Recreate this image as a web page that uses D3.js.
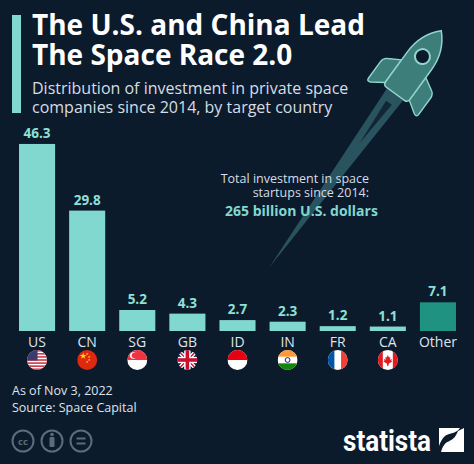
<!DOCTYPE html>
<html>
<head>
<meta charset="utf-8">
<script src="https://cdn.jsdelivr.net/npm/d3@7"></script>
<style>
  body { margin: 0; background: #0c1b2c; }
  svg { display: block; font-family: "Open Sans", sans-serif; }
</style>
</head>
<body>
<div id="chart"></div>
<script>
// data (billion U.S. dollars)
var countries = ["US", "CN", "SG", "GB", "ID", "IN", "FR", "CA", "Other"];
var investment = [46.3, 29.8, 5.2, 4.3, 2.7, 2.3, 1.2, 1.1, 7.1];
var titleLines = ["The U.S. and China Lead", "The Space Race 2.0"];
var subtitleLines = ["Distribution of investment in private space", "companies since 2014, by target country"];
var noteLines = ["Total investment in space", "startups since 2014:"];
var noteTotal = "265 billion U.S. dollars";
var footLines = ["As of Nov 3, 2022", "Source: Space Capital"];

var svgWidth = 474;
var svgHeight = 464;
var bg = "#0c1b2c";
var teal = "#80d8cf";

var svg = d3.select("#chart").append("svg")
    .attr("width", svgWidth)
    .attr("height", svgHeight);

svg.append("rect").attr("width", svgWidth).attr("height", svgHeight).attr("fill", bg);

var defs = svg.append("defs");

// rocket + trail
var rocket = svg.append("g").attr("transform", "translate(396,93) rotate(36)");
rocket.append("path")
    .attr("d", "M-10,2 L10,2 L0,216 Z")
    .attr("fill", "#2f5d68")
    .attr("opacity", 0.85);
rocket.append("path")
    .attr("d", "M-3.5,12 L3.5,12 L0,62 Z")
    .attr("fill", bg)
    .attr("opacity", 0.8);
// fins
rocket.append("path")
    .attr("d", "M-15,-30 L-27,-23 Q-31,-21 -31,-16 L-31,4 Q-31,8 -27,6 L-15,-2 Z")
    .attr("fill", "#3d7d7a").attr("stroke", "#8fd5cc").attr("stroke-width", 1.4);
rocket.append("path")
    .attr("d", "M15,-30 L27,-23 Q31,-21 31,-16 L31,4 Q31,8 27,6 L15,-2 Z")
    .attr("fill", "#3d7d7a").attr("stroke", "#8fd5cc").attr("stroke-width", 1.4);
// body
rocket.append("path")
    .attr("d", "M-15,-3 L-15,-40 C-15,-58 -7,-70 0,-77 C7,-70 15,-58 15,-40 L15,-3 Q15,1 11,1 L-11,1 Q-15,1 -15,-3 Z")
    .attr("fill", "#3d7d7a").attr("stroke", "#8fd5cc").attr("stroke-width", 1.5);
rocket.append("circle")
    .attr("cx", 0).attr("cy", -45).attr("r", 7.5)
    .attr("fill", bg).attr("stroke", "#8fd5cc").attr("stroke-width", 2);

// title block
svg.append("rect").attr("x", 12).attr("y", 15).attr("width", 9).attr("height", 98).attr("fill", teal);

svg.selectAll(".title").data(titleLines).enter().append("text")
    .attr("class", "title")
    .attr("x", 32)
    .attr("y", (d, i) => 35 + i * 30)
    .attr("fill", "#ffffff")
    .attr("font-size", 28)
    .attr("font-weight", 700)
    .text(d => d);

svg.selectAll(".subtitle").data(subtitleLines).enter().append("text")
    .attr("class", "subtitle")
    .attr("x", 32)
    .attr("y", (d, i) => 94 + i * 19)
    .attr("fill", "#d6dde4")
    .attr("font-size", 16)
    .text(d => d);

// annotation
svg.selectAll(".note").data(noteLines).enter().append("text")
    .attr("class", "note")
    .attr("x", 369)
    .attr("y", (d, i) => 183 + i * 14)
    .attr("text-anchor", "end")
    .attr("fill", "#d6dde4")
    .attr("font-size", 12.5)
    .text(d => d);
svg.append("text")
    .attr("x", 225)
    .attr("y", 216)
    .attr("fill", teal)
    .attr("font-size", 14)
    .attr("font-weight", 700)
    .text(noteTotal);

// scales
var xBand = d3.scaleBand()
    .domain(countries)
    .range([12, 463])
    .paddingInner(0.28)
    .paddingOuter(0.14);

var yLinear = d3.scaleLinear()
    .domain([0, 50])
    .range([331, 129]);

var chartGroup = svg.append("g");

chartGroup.selectAll(".bar")
    .data(investment)
    .enter()
    .append("rect")
    .attr("class", "bar")
    .attr("x", (d, i) => xBand(countries[i]))
    .attr("y", d => yLinear(d))
    .attr("width", xBand.bandwidth())
    .attr("height", d => yLinear(0) - yLinear(d))
    .attr("fill", (d, i) => countries[i] === "Other" ? "#1f9282" : teal);

chartGroup.selectAll(".value")
    .data(investment)
    .enter()
    .append("text")
    .attr("class", "value")
    .attr("x", (d, i) => xBand(countries[i]) + xBand.bandwidth() / 2)
    .attr("y", d => yLinear(d) - 6)
    .attr("text-anchor", "middle")
    .attr("fill", "#8fe0d6")
    .attr("font-size", 13.5)
    .attr("font-weight", 700)
    .text(d => d3.format(".1f")(d));

// x axis labels (no axis line in the reference)
var xAxis = chartGroup.append("g")
    .attr("transform", "translate(0,347)")
    .call(d3.axisBottom(xBand).tickSize(0).tickPadding(0));
xAxis.select(".domain").remove();
xAxis.selectAll("text")
    .attr("dy", 0)
    .attr("fill", "#dfe4ea")
    .attr("font-size", 14)
    .attr("font-family", "Open Sans, sans-serif");

// flags
var flagR = 10;
var flagY = 360;

function drawFlag(g, code) {
    var r = flagR;
    function rect(x, y, w, h, c) {
        g.append("rect").attr("x", x).attr("y", y).attr("width", w).attr("height", h).attr("fill", c);
    }
    if (code === "US") {
        rect(-r, -r, 2 * r, 2 * r, "#ffffff");
        for (var k = 0; k < 7; k++) rect(-r, -r + k * (2 * r / 6.5), 2 * r, r / 6.5, "#c8313e");
        rect(-r, -r, r * 1.05, r * 1.05, "#3c3b6e");
    } else if (code === "CN") {
        rect(-r, -r, 2 * r, 2 * r, "#de2910");
        g.append("path").attr("d", d3.symbol(d3.symbolStar, 14)()).attr("transform", "translate(-4,-4)").attr("fill", "#ffde00");
        [[0, -6], [2, -3], [2, 0], [0, 2]].forEach(p => {
            g.append("path").attr("d", d3.symbol(d3.symbolStar, 2)()).attr("transform", `translate(${p[0]},${p[1]})`).attr("fill", "#ffde00");
        });
    } else if (code === "SG") {
        rect(-r, -r, 2 * r, 2 * r, "#ffffff");
        rect(-r, -r, 2 * r, r, "#ef3340");
        g.append("circle").attr("cx", -4).attr("cy", -4.5).attr("r", 3.2).attr("fill", "#ffffff");
        g.append("circle").attr("cx", -2.8).attr("cy", -4.5).attr("r", 2.8).attr("fill", "#ef3340");
    } else if (code === "GB") {
        rect(-r, -r, 2 * r, 2 * r, "#012169");
        g.append("path").attr("d", `M${-r},${-r}L${r},${r}M${r},${-r}L${-r},${r}`).attr("stroke", "#ffffff").attr("stroke-width", 4);
        g.append("path").attr("d", `M${-r},${-r}L${r},${r}M${r},${-r}L${-r},${r}`).attr("stroke", "#c8102e").attr("stroke-width", 1.4);
        rect(-r, -3.2, 2 * r, 6.4, "#ffffff");
        rect(-3.2, -r, 6.4, 2 * r, "#ffffff");
        rect(-r, -1.8, 2 * r, 3.6, "#c8102e");
        rect(-1.8, -r, 3.6, 2 * r, "#c8102e");
    } else if (code === "ID") {
        rect(-r, -r, 2 * r, 2 * r, "#ffffff");
        rect(-r, -r, 2 * r, r, "#e70011");
    } else if (code === "IN") {
        rect(-r, -r, 2 * r, 2 * r, "#ffffff");
        rect(-r, -r, 2 * r, 2 * r / 3, "#ff9933");
        rect(-r, r / 3, 2 * r, 2 * r / 3, "#138808");
        g.append("circle").attr("r", 2.4).attr("fill", "none").attr("stroke", "#000080").attr("stroke-width", 0.9);
    } else if (code === "FR") {
        rect(-r, -r, 2 * r, 2 * r, "#ffffff");
        rect(-r, -r, 2 * r / 3, 2 * r, "#0055a4");
        rect(r / 3, -r, 2 * r / 3, 2 * r, "#ef4135");
    } else if (code === "CA") {
        rect(-r, -r, 2 * r, 2 * r, "#ffffff");
        rect(-r, -r, r * 0.5, 2 * r, "#e21b22");
        rect(r * 0.5, -r, r * 0.5, 2 * r, "#e21b22");
        g.append("path")
            .attr("d", "M0,-5 L1.2,-2.6 L2.6,-3 L2,0 L4,-1.2 L3.4,1 L4.6,1.6 L1,3.6 L0.5,6 L-0.5,6 L-1,3.6 L-4.6,1.6 L-3.4,1 L-4,-1.2 L-2,0 L-2.6,-3 L-1.2,-2.6 Z")
            .attr("fill", "#e21b22");
    }
}

countries.forEach(function (c, i) {
    if (c === "Other") return;
    var cx = xBand(c) + xBand.bandwidth() / 2;
    defs.append("clipPath").attr("id", "clip-" + c)
        .append("circle").attr("r", flagR);
    var g = svg.append("g")
        .attr("transform", `translate(${cx},${flagY})`)
        .attr("clip-path", `url(#clip-${c})`);
    drawFlag(g, c);
});

// footer
svg.selectAll(".foot").data(footLines).enter().append("text")
    .attr("class", "foot")
    .attr("x", 12)
    .attr("y", (d, i) => 395 + i * 17)
    .attr("fill", "#dfe4ea")
    .attr("font-size", 12.5)
    .text(d => d);

// cc icons
var ccGray = "#5d6b7a";
var icons = svg.append("g").attr("fill", "none").attr("stroke", ccGray).attr("stroke-width", 2);
[23, 52, 81].forEach(x => icons.append("circle").attr("cx", x).attr("cy", 441).attr("r", 10.5));
svg.append("text").attr("x", 23).attr("y", 444.5).attr("text-anchor", "middle")
    .attr("fill", ccGray).attr("font-size", 9.5).attr("font-weight", 700).text("cc");
svg.append("circle").attr("cx", 52).attr("cy", 434.5).attr("r", 1.8).attr("fill", ccGray);
svg.append("rect").attr("x", 49.5).attr("y", 437).attr("width", 5).attr("height", 10).attr("rx", 1).attr("fill", ccGray);
svg.append("rect").attr("x", 76.5).attr("y", 437.5).attr("width", 9).attr("height", 2).attr("fill", ccGray);
svg.append("rect").attr("x", 76.5).attr("y", 442.5).attr("width", 9).attr("height", 2).attr("fill", ccGray);

// statista logo
svg.append("text")
    .attr("x", 343)
    .attr("y", 451)
    .attr("fill", "#ffffff")
    .attr("font-family", "Roboto, sans-serif")
    .attr("font-weight", 700)
    .attr("font-size", 29)
    .attr("textLength", 88)
    .attr("lengthAdjust", "spacingAndGlyphs")
    .text("statista");
svg.append("rect").attr("x", 439).attr("y", 428).attr("width", 25).attr("height", 24).attr("fill", "#ffffff");
svg.append("path")
    .attr("d", "M439,452 L441,452 C446,436 452,446 458,431 L464,428 L460,428 C452,438 446,428 439,446 Z")
    .attr("fill", bg);
</script>
</body>
</html>
